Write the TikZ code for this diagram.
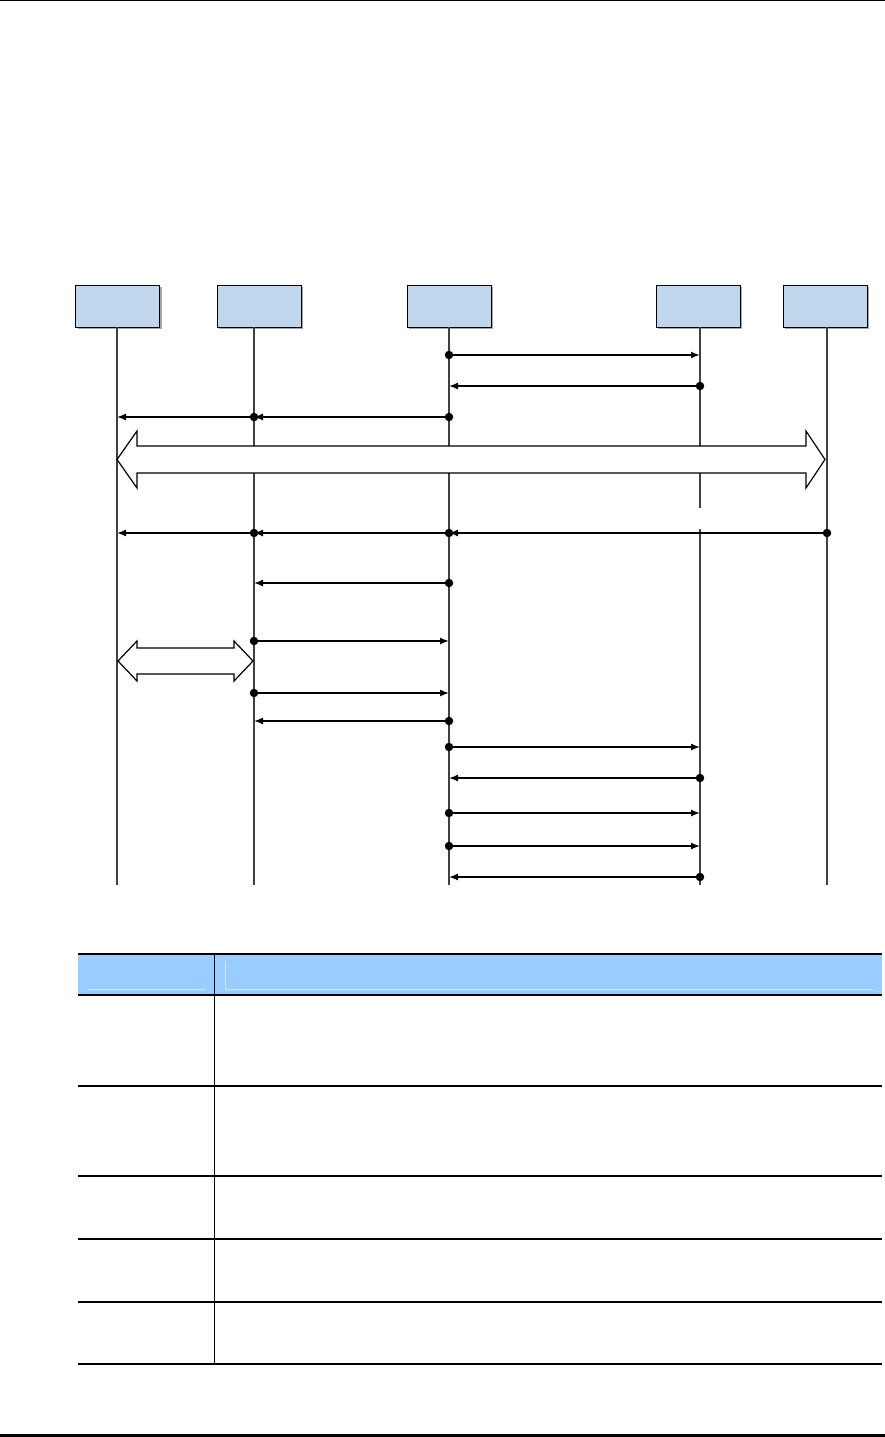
\documentclass[tikz,border=0pt]{standalone}
\usepackage{amsmath}
\usepackage{tikz}
\usetikzlibrary{positioning}
\usetikzlibrary{arrows.meta}
\usetikzlibrary{shadows}

\definecolor{headblue}{RGB}{191,214,236}
\definecolor{rowblue}{RGB}{153,204,255}
\definecolor{lifegray}{RGB}{64,64,64}

\tikzset{
  head/.style={draw, fill=headblue, minimum width=84pt, minimum height=42pt, inner sep=0pt,
    drop shadow={shadow xshift=2pt, shadow yshift=-2pt, fill=gray, opacity=0.7}},
  life/.style={color=lifegray, line width=2pt},
  dot/.style={circle, fill=black, inner sep=0pt, minimum size=8.5pt},
  msg/.style={-{Latex[length=9pt,width=7pt]}, line width=1.4pt},
  block/.style={draw, fill=white, line width=1.2pt, line join=miter}
}

\begin{document}
\begin{tikzpicture}[x=1pt, y=-1pt]
\useasboundingbox (0,0) rectangle (885,1437);

% page rules
\draw[line width=1.5pt] (0,0.75) -- (885,0.75);
\draw[line width=3pt] (0,1435) -- (885,1435);

% heads
\node (h1) at (117.5,306) [head] {};
\node (h2) at (259,306)   [head] {};
\node (h3) at (449,306)   [head] {};
\node (h4) at (698,306)   [head] {};
\node (h5) at (825,306)   [head] {};

% lifelines
\coordinate (l1) at (117,327);  \coordinate (e1) at (117,885);
\coordinate (l2) at (254,327);  \coordinate (e2) at (254,885);
\coordinate (l3) at (449,327);  \coordinate (e3) at (449,885);
\coordinate (l4) at (700,327);  \coordinate (e4) at (700,885);
\coordinate (l5) at (827,327);  \coordinate (e5) at (827,885);
\coordinate (g4a) at (700,508); \coordinate (g4b) at (700,529);

\draw[life] (l1) -- (e1);
\draw[life] (l2) -- (e2);
\draw[life] (l3) -- (e3);
\draw[life] (l4) -- (g4a);
\draw[life] (g4b) -- (e4);
\draw[life] (l5) -- (e5);

% messages
\node (d1) at (449,355) [dot] {};
\draw[msg, line width=2.2pt] (d1) -- (d1 -| l4);
\node (d2) at (700,386) [dot] {};
\draw[msg] (d2) -- (d2 -| l3);
\node (d3) at (449,417) [dot] {};
\draw[msg] (d3) -- (d3 -| l2);
\node (d4) at (254,417) [dot] {};
\draw[msg] (d4) -- (d4 -| l1);

% big block arrow
\draw[block] (117,459.5) -- (137,431) -- (137,446) -- (806,446) -- (806,431) -- (825,459.5)
  -- (806,488) -- (806,473) -- (137,473) -- (137,488) -- cycle;

\node (d5) at (827,533) [dot] {};
\draw[msg] (d5) -- (d5 -| l3);
\node (d6) at (449,533) [dot] {};
\draw[msg] (d6) -- (d6 -| l2);
\node (d7) at (254,533) [dot] {};
\draw[msg] (d7) -- (d7 -| l1);

\node (d8) at (449,583) [dot] {};
\draw[msg] (d8) -- (d8 -| l2);
\node (d9) at (254,641) [dot] {};
\draw[msg] (d9) -- (d9 -| l3);

% small block arrow
\draw[block] (118,661) -- (137,641) -- (137,648) -- (234,648) -- (234,641) -- (253,661)
  -- (234,681) -- (234,674) -- (137,674) -- (137,681) -- cycle;

\node (d10) at (254,693) [dot] {};
\draw[msg] (d10) -- (d10 -| l3);
\node (d11) at (449,721) [dot] {};
\draw[msg] (d11) -- (d11 -| l2);
\node (d12) at (449,747) [dot] {};
\draw[msg] (d12) -- (d12 -| l4);
\node (d13) at (700,778) [dot] {};
\draw[msg] (d13) -- (d13 -| l3);
\node (d14) at (449,813) [dot] {};
\draw[msg] (d14) -- (d14 -| l4);
\node (d15) at (449,846) [dot] {};
\draw[msg] (d15) -- (d15 -| l4);
\node (d16) at (700,877) [dot] {};
\draw[msg] (d16) -- (d16 -| l3);

% table
\fill[rowblue] (78,954) rectangle (882,995);
\draw[white!55!rowblue, line width=0.8pt] (88,989) -- (205,989);
\draw[white!55!rowblue, line width=0.8pt] (225,961) -- (225,989) -- (873,989);
\draw[line width=2.5pt] (78,954) -- (882,954);
\draw[line width=1.2pt] (78,995) -- (882,995);
\draw[line width=1.1pt] (78,1086) -- (882,1086);
\draw[line width=1.1pt] (78,1176) -- (882,1176);
\draw[line width=1.1pt] (78,1239) -- (882,1239);
\draw[line width=1.1pt] (78,1302) -- (882,1302);
\draw[line width=2pt] (78,1364) -- (882,1364);
\draw[line width=1pt] (214,954) -- (214,1364);

\end{tikzpicture}
\end{document}
